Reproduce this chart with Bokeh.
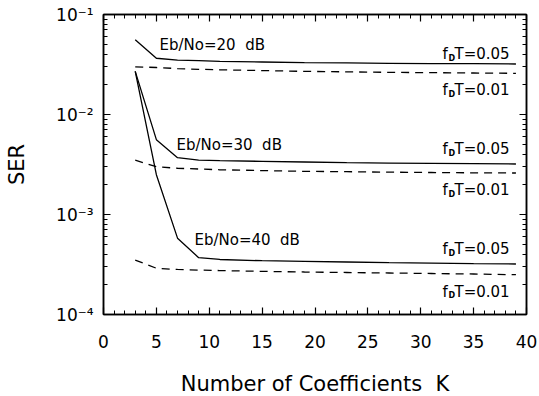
from bokeh.plotting import figure
from bokeh.models import LinearAxis, LogAxis, FixedTicker, CustomJSTickFormatter
from bokeh.core.properties import value
from bokeh.embed import file_html
from bokeh.resources import INLINE

# ---- data ----
K = [3, 5, 7, 9, 11, 15, 19, 23, 27, 31, 35, 39]
ser20_005 = [5.6e-2, 3.65e-2, 3.5e-2, 3.45e-2, 3.4e-2, 3.35e-2, 3.3e-2, 3.28e-2, 3.25e-2, 3.23e-2, 3.22e-2, 3.2e-2]
ser20_001 = [3.0e-2, 2.95e-2, 2.88e-2, 2.83e-2, 2.8e-2, 2.75e-2, 2.7e-2, 2.67e-2, 2.64e-2, 2.62e-2, 2.6e-2, 2.58e-2]
ser30_005 = [2.7e-2, 5.6e-3, 3.7e-3, 3.5e-3, 3.45e-3, 3.4e-3, 3.35e-3, 3.3e-3, 3.27e-3, 3.25e-3, 3.22e-3, 3.2e-3]
ser30_001 = [3.5e-3, 3.0e-3, 2.9e-3, 2.85e-3, 2.8e-3, 2.75e-3, 2.7e-3, 2.68e-3, 2.65e-3, 2.63e-3, 2.61e-3, 2.6e-3]
ser40_005 = [2.7e-2, 2.5e-3, 5.8e-4, 3.7e-4, 3.55e-4, 3.45e-4, 3.4e-4, 3.35e-4, 3.3e-4, 3.27e-4, 3.23e-4, 3.2e-4]
ser40_001 = [3.5e-4, 2.9e-4, 2.82e-4, 2.78e-4, 2.75e-4, 2.7e-4, 2.66e-4, 2.63e-4, 2.6e-4, 2.57e-4, 2.54e-4, 2.5e-4]

eb_text = ["Eb/No=20 \u00a0dB", "Eb/No=30 \u00a0dB", "Eb/No=40 \u00a0dB"]
eb_x = [5.3, 6.9, 8.6]
eb_y = [4.9e-2, 4.9e-3, 5.6e-4]

fd_text = ["T=0.05", "T=0.01", "T=0.05", "T=0.01", "T=0.05", "T=0.01"]
fd_x = [32.06] * 6
fd_y = [4.0e-2, 1.75e-2, 4.5e-3, 1.75e-3, 4.5e-4, 1.68e-4]

x_ticks = [0, 5, 10, 15, 20, 25, 30, 35, 40]
x_minor = list(range(0, 41))
y_ticks = [1e-4, 1e-3, 1e-2, 1e-1]
y_labels = ["10\u207b\u2074", "10\u207b\u00b3", "10\u207b\u00b2", "10\u207b\u00b9"]
y_minor = [m * 10.0 ** e for e in (-4, -3, -2) for m in range(2, 10)]

FONT = "DejaVu Sans"

p = figure(frame_width=423, frame_height=300, x_range=(0, 40), y_range=(1e-4, 1e-1),
           y_axis_type="log", output_backend="svg", toolbar_location=None,
           min_border_left=103, min_border_right=12, min_border_top=14, min_border_bottom=80,
           background_fill_color="white", border_fill_color="white")
p.xgrid.visible = False
p.ygrid.visible = False
p.outline_line_color = "black"
p.outline_line_width = 1.5

xticker = FixedTicker(ticks=x_ticks, minor_ticks=x_minor)
yticker = FixedTicker(ticks=y_ticks, minor_ticks=y_minor)
yfmt = CustomJSTickFormatter(args=dict(vals=y_ticks, labs=y_labels), code="""
let best = 0;
for (let i = 0; i < vals.length; i++) {
  if (Math.abs(Math.log10(vals[i]) - Math.log10(tick)) < 1e-6) best = i;
}
return labs[best];
""")

def style(ax, labels=True):
    ax.axis_line_color = "black"
    ax.axis_line_width = 1.5
    ax.major_tick_line_color = "black"
    ax.minor_tick_line_color = "black"
    ax.major_tick_line_width = 1.2
    ax.minor_tick_line_width = 1.0
    ax.major_tick_in = 7
    ax.major_tick_out = 0
    ax.minor_tick_in = 4
    ax.minor_tick_out = 0
    ax.major_label_text_font = FONT
    ax.major_label_text_color = "black"
    ax.axis_label_text_font = FONT
    ax.axis_label_text_font_style = "normal"
    ax.axis_label_text_color = "black"
    ax.axis_label_text_font_size = "21px"
    if labels:
        ax.major_label_text_font_size = "17px"
    else:
        ax.major_label_text_font_size = "1px"
        ax.major_label_text_alpha = 0
        ax.major_label_standoff = 0

xa = p.xaxis[0]
xa.ticker = xticker
style(xa)
xa.major_label_standoff = 20
xa.axis_label = "Number of Coefficients \u00a0K"
xa.axis_label_standoff = 21

ya = p.yaxis[0]
ya.ticker = yticker
ya.formatter = yfmt
style(ya)
ya.major_label_standoff = 10
ya.axis_label = "SER"
ya.axis_label_standoff = 24

top = LinearAxis(ticker=xticker)
style(top, labels=False)
p.add_layout(top, "above")
right = LogAxis(ticker=yticker)
style(right, labels=False)
p.add_layout(right, "right")

for ys in (ser20_005, ser30_005, ser40_005):
    p.line(K, ys, line_color="black", line_width=1.3)
for ys in (ser20_001, ser30_001, ser40_001):
    p.line(K, ys, line_color="black", line_width=1.3, line_dash="8 6")

p.text(x=eb_x, y=eb_y, text=eb_text, text_font=value(FONT), text_font_size="15px",
       text_baseline="middle", text_align="left", text_color="black")

p.text(x=fd_x, y=fd_y, text=["f"] * 6, text_font=value(FONT), text_font_size="15px",
       text_baseline="middle", text_align="left", text_color="black")
p.text(x=fd_x, y=fd_y, text=["D"] * 6, text_font=value(FONT), text_font_size="8px",
       text_font_style="bold", text_baseline="middle", text_align="left",
       text_color="black", x_offset=6, y_offset=4)
p.text(x=fd_x, y=fd_y, text=fd_text, text_font=value(FONT), text_font_size="15px",
       text_baseline="middle", text_align="left", text_color="black", x_offset=12)

open("out.html", "w").write(file_html(p, INLINE))
